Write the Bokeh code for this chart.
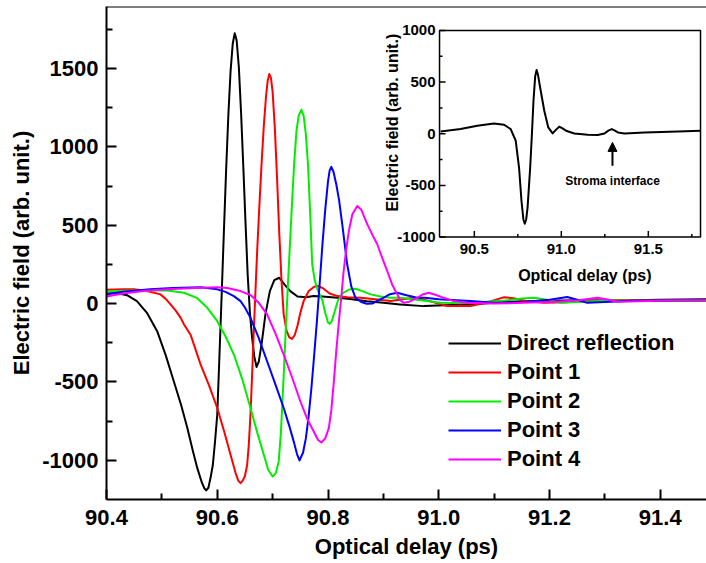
import numpy as np
from bokeh.plotting import figure
from bokeh.models import (Range1d, FixedTicker, PrintfTickFormatter, Legend,
                          LegendItem, Span, Arrow, NormalHead)
from bokeh.core.properties import value
from bokeh.embed import file_html
from bokeh.resources import INLINE

# ---------------- data ----------------
series_names = ["Direct reflection", "Point 1", "Point 2", "Point 3", "Point 4"]
series_colors = ["#000000", "#ff0000", "#00ee00", "#0000ff", "#ff00ff"]

direct_x = [90.40, 90.42, 90.437, 90.455, 90.473, 90.4915, 90.507, 90.5215, 90.535, 90.546,
            90.556, 90.564, 90.572, 90.577, 90.580, 90.584, 90.588, 90.592, 90.596, 90.600,
            90.604, 90.608, 90.612, 90.616, 90.620, 90.624, 90.628, 90.6316, 90.635, 90.639,
            90.643, 90.647, 90.651, 90.655, 90.659, 90.663, 90.667, 90.671, 90.675, 90.680,
            90.687, 90.695, 90.703, 90.712, 90.722, 90.732, 90.745, 90.760, 90.774, 90.790,
            90.817, 90.84, 90.87, 90.90, 90.93, 90.973, 91.01, 91.057, 91.10, 91.15,
            91.20, 91.25, 91.30, 91.35, 91.40, 91.49]
direct_y = [65, 66, 54, 16, -59, -176, -330, -495, -650, -794,
            -940, -1050, -1140, -1180, -1192, -1175, -1110, -1030, -880, -708,
            -330, 60, 460, 850, 1200, 1480, 1660, 1725, 1680, 1510,
            1220, 880, 520, 180, -60, -220, -340, -404, -370, -260,
            -69, 80, 150, 165, 120, 80, 45, 40, 48, 45,
            37, 30, 15, 5, -5, -16, -10, -5, 5, 15,
            18, 22, 20, 22, 25, 28]

p1_x = [90.40, 90.43, 90.449, 90.465, 90.479, 90.4975, 90.507, 90.5156, 90.525, 90.534,
        90.540, 90.552, 90.570, 90.585, 90.600, 90.612, 90.624, 90.633, 90.638, 90.642,
        90.646, 90.650, 90.654, 90.657, 90.660, 90.663, 90.666, 90.669, 90.672, 90.676,
        90.680, 90.684, 90.688, 90.691, 90.694, 90.697, 90.700, 90.704, 90.708, 90.712,
        90.716, 90.720, 90.725, 90.730, 90.735, 90.740, 90.745, 90.750, 90.756, 90.765,
        90.775, 90.783, 90.792, 90.803, 90.817, 90.835, 90.859, 90.885, 90.913, 90.935,
        90.955, 90.985, 91.015, 91.057, 91.09, 91.117, 91.135, 91.16, 91.19, 91.23,
        91.28, 91.33, 91.40, 91.49]
p1_y = [88, 92, 91, 85, 76, 59, 30, -5, -45, -91,
        -133, -200, -389, -520, -666, -810, -964, -1080, -1130, -1146,
        -1130, -1100, -1030, -900, -708, -450, -176, 80, 330, 620,
        890, 1130, 1320, 1420, 1465, 1440, 1350, 1120, 800, 450,
        150, -69, -170, -215, -225, -200, -140, -60, 16, 80,
        108, 112, 95, 65, 48, 40, 37, 28, 16, 28,
        37, 15, -16, -16, 10, 40, 35, 15, 5, 8,
        18, 22, 20, 18]

p2_x = [90.40, 90.43, 90.47, 90.51, 90.54, 90.563, 90.582, 90.60, 90.615, 90.63,
        90.645, 90.66, 90.672, 90.684, 90.692, 90.700, 90.706, 90.711, 90.715, 90.7195,
        90.7235, 90.727, 90.731, 90.735, 90.739, 90.743, 90.747, 90.752, 90.756, 90.760,
        90.764, 90.768, 90.7715, 90.776, 90.781, 90.786, 90.790, 90.795, 90.800, 90.803,
        90.807, 90.812, 90.818, 90.826, 90.838, 90.85, 90.862, 90.877, 90.895, 90.913,
        90.931, 90.96, 91.003, 91.04, 91.08, 91.12, 91.15, 91.172, 91.195, 91.22,
        91.26, 91.31, 91.38, 91.49]
p2_y = [78, 82, 84, 84, 69, 37, -27, -112, -210, -325,
        -480, -666, -820, -964, -1060, -1103, -1080, -1007, -820, -495,
        -180, 80, 360, 640, 900, 1100, 1200, 1237, 1200, 1080,
        880, 560, 251, 150, 90, 50, 20, -60, -120, -129,
        -110, -50, 20, 65, 90, 95, 80, 59, 45, 37,
        37, 25, 5, 2, 10, 20, 32, 37, 25, 5,
        12, 20, 18, 18]

p3_x = [90.40, 90.43, 90.479, 90.52, 90.57, 90.60, 90.615, 90.63, 90.642, 90.650,
        90.66, 90.675, 90.69, 90.705, 90.72, 90.730, 90.738, 90.744, 90.7485, 90.755,
        90.760, 90.765, 90.770, 90.775, 90.780, 90.785, 90.790, 90.795, 90.800, 90.803,
        90.806, 90.810, 90.815, 90.820, 90.827, 90.8346, 90.842, 90.8497, 90.86, 90.87,
        90.88, 90.89, 90.90, 90.912, 90.925, 90.94, 90.961, 90.975, 91.0, 91.057,
        91.10, 91.15, 91.20, 91.232, 91.25, 91.268, 91.30, 91.35, 91.40, 91.49]
p3_y = [60, 75, 91, 100, 105, 91, 75, 48, 16, -25,
        -91, -220, -368, -515, -666, -780, -879, -960, -1001, -950,
        -860, -720, -540, -330, -110, 130, 380, 600, 780, 850,
        873, 840, 760, 660, 470, 251, 110, 37, 10, -1,
        0, 20, 37, 60, 69, 55, 37, 37, 28, 16,
        5, 8, 25, 42, 25, 5, 10, 18, 20, 22]

p4_x = [90.40, 90.43, 90.47, 90.51, 90.56, 90.60, 90.618, 90.642, 90.66, 90.675,
        90.69, 90.705, 90.72, 90.735, 90.75, 90.763, 90.774, 90.782, 90.788, 90.795,
        90.8015, 90.806, 90.8106, 90.815, 90.8195, 90.824, 90.828, 90.833, 90.838, 90.844,
        90.8527, 90.860, 90.871, 90.880, 90.889, 90.898, 90.907, 90.916, 90.925, 90.931,
        90.937, 90.945, 90.961, 90.972, 90.982, 90.995, 91.009, 91.027, 91.05, 91.10,
        91.15, 91.20, 91.25, 91.286, 91.30, 91.322, 91.36, 91.41, 91.49]
p4_y = [45, 65, 82, 91, 100, 105, 100, 80, 55, 5,
        -69, -190, -325, -470, -623, -740, -815, -870, -886, -860,
        -794, -680, -495, -300, -120, 40, 200, 350, 470, 570,
        623, 600, 506, 440, 379, 290, 208, 120, 59, 20,
        5, 10, 37, 60, 69, 55, 37, 16, 5, 0,
        5, 10, 20, 37, 30, 12, 15, 20, 22]

inset_x = [90.306, 90.421, 90.517, 90.613, 90.671, 90.709, 90.738, 90.757, 90.771, 90.782,
           90.790, 90.798, 90.806, 90.821, 90.831, 90.840, 90.850, 90.858, 90.866, 90.878,
           90.902, 90.925, 90.950, 90.970, 90.988, 91.005, 91.027, 91.075, 91.152, 91.209,
           91.248, 91.270, 91.290, 91.308, 91.325, 91.363, 91.478, 91.671, 91.80]
inset_y = [22, 45, 78, 100, 87, 45, -68, -327, -650, -830,
           -871, -830, -715, -327, -3, 320, 560, 618, 570, 450,
           223, 61, 3, 40, 68, 55, 29, 3, -10, -13,
           3, 30, 45, 30, 13, 3, 13, 22, 29]

main_x_ticks = [90.4, 90.6, 90.8, 91.0, 91.2, 91.4]
main_x_minor = [90.5, 90.7, 90.9, 91.1, 91.3]
main_y_ticks = [-1000, -500, 0, 500, 1000, 1500]
main_y_minor = [-750, -250, 250, 750, 1250, 1750]

inset_x_ticks = [90.5, 91.0, 91.5]
inset_x_minor = [90.75, 91.25, 91.75]
inset_y_ticks = [-1000, -500, 0, 500, 1000]
inset_y_minor = [-750, -250, 250, 750]
inset_x_lim = (90.3, 91.8)
inset_y_lim = (-1000, 1000)
annotation_text = "Stroma interface"
annotation_x = 91.294
annotation_arrow_y = (-311, -84)
annotation_text_y = -456

# ---------------- layout ----------------
FONT = "Liberation Sans"
X_MAIN = (90.4, 91.4835)
Y_MAIN = (-1250, 1896)
# inset box expressed in main-data units
INSET_BOX_X = (91.0014, 91.4727)
INSET_BOX_Y = (425, 1743)
INSET_XLABEL_X = 91.135
INSET_YLABEL_Y = 107

p = figure(width=706, height=561, x_range=Range1d(*X_MAIN), y_range=Range1d(*Y_MAIN),
           output_backend="svg", toolbar_location=None,
           min_border_left=106, min_border_right=0, min_border_top=6, min_border_bottom=0)
p.outline_line_color = None
p.xgrid.visible = False
p.ygrid.visible = False
p.background_fill_color = "white"

for ax in (p.xaxis[0], p.yaxis[0]):
    ax.axis_line_width = 2
    ax.axis_line_color = "black"
    ax.major_tick_in = 10
    ax.major_tick_out = 0
    ax.minor_tick_in = 6
    ax.minor_tick_out = 0
    ax.major_tick_line_width = 2
    ax.minor_tick_line_width = 2
    ax.major_label_text_font = FONT
    ax.major_label_text_font_size = "22px"
    ax.major_label_text_font_style = "bold"
    ax.major_label_text_color = "black"
    ax.major_label_text_line_height = 1.0
    ax.axis_label_text_font = FONT
    ax.axis_label_text_font_size = "22px"
    ax.axis_label_text_font_style = "bold"
    ax.axis_label_text_color = "black"
    ax.axis_label_text_line_height = 1.0

p.xaxis.ticker = FixedTicker(ticks=main_x_ticks, minor_ticks=main_x_minor)
p.yaxis.ticker = FixedTicker(ticks=main_y_ticks, minor_ticks=main_y_minor)
p.xaxis.formatter = PrintfTickFormatter(format="%.1f")
p.yaxis.formatter = PrintfTickFormatter(format="%d")
p.xaxis.axis_label = "Optical delay (ps)"
p.yaxis.axis_label = "Electric field (arb. unit.)"
p.xaxis.major_label_standoff = 10
p.xaxis.axis_label_standoff = 6
p.yaxis.major_label_standoff = 8
p.yaxis.axis_label_standoff = 5

p.add_layout(Span(location=Y_MAIN[1], dimension="width", line_color="black", line_width=2))

# main curves
xs = [direct_x, p1_x, p2_x, p3_x, p4_x]
ys = [direct_y, p1_y, p2_y, p3_y, p4_y]
items = []
for name, col, x, y in zip(series_names, series_colors, xs, ys):
    r = p.line(x, y, line_color=col, line_width=2, line_join="round")
    items.append(LegendItem(label=name, renderers=[r]))

legend = Legend(items=items, location=(342, 27), label_text_font=FONT,
                label_text_font_size="22px", label_text_font_style="bold",
                label_text_color="black", label_text_line_height=1.0,
                glyph_width=53, glyph_height=22, label_height=22, spacing=3,
                padding=0, margin=0, border_line_color=None,
                background_fill_alpha=0, label_standoff=6)
p.add_layout(legend)

# ---------------- inset (mapped into the main frame) ----------------
sx = (inset_x_lim[1] - inset_x_lim[0]) / (INSET_BOX_X[1] - INSET_BOX_X[0])
sy = (inset_y_lim[1] - inset_y_lim[0]) / (INSET_BOX_Y[1] - INSET_BOX_Y[0])
p.extra_x_ranges = {"ix": Range1d(inset_x_lim[0] - (INSET_BOX_X[0] - X_MAIN[0]) * sx,
                                  inset_x_lim[1] + (X_MAIN[1] - INSET_BOX_X[1]) * sx)}
p.extra_y_ranges = {"iy": Range1d(inset_y_lim[0] - (INSET_BOX_Y[0] - Y_MAIN[0]) * sy,
                                  inset_y_lim[1] + (Y_MAIN[1] - INSET_BOX_Y[1]) * sy)}
R = dict(x_range_name="ix", y_range_name="iy")

p.quad(left=[inset_x_lim[0]], right=[inset_x_lim[1]], bottom=[inset_y_lim[0]], top=[inset_y_lim[1]],
       fill_color="white", line_color="black", line_width=1.5, **R)
p.line(inset_x, inset_y, line_color="black", line_width=2, line_join="round", **R)

# inset ticks (pixel lengths converted to inset units)
px_w, px_h = 261.0, 206.0
tx_major = 6 * (inset_y_lim[1] - inset_y_lim[0]) / px_h
tx_minor = 3 * (inset_y_lim[1] - inset_y_lim[0]) / px_h
ty_major = 6 * (inset_x_lim[1] - inset_x_lim[0]) / px_w
ty_minor = 3 * (inset_x_lim[1] - inset_x_lim[0]) / px_w
b = inset_y_lim[0]
l = inset_x_lim[0]
p.segment(x0=inset_x_ticks, y0=[b] * len(inset_x_ticks), x1=inset_x_ticks,
          y1=[b + tx_major] * len(inset_x_ticks), line_color="black", line_width=1.5, **R)
p.segment(x0=inset_x_minor, y0=[b] * len(inset_x_minor), x1=inset_x_minor,
          y1=[b + tx_minor] * len(inset_x_minor), line_color="black", line_width=1.5, **R)
p.segment(x0=[l] * len(inset_y_ticks), y0=inset_y_ticks, x1=[l + ty_major] * len(inset_y_ticks),
          y1=inset_y_ticks, line_color="black", line_width=1.5, **R)
p.segment(x0=[l] * len(inset_y_minor), y0=inset_y_minor, x1=[l + ty_minor] * len(inset_y_minor),
          y1=inset_y_minor, line_color="black", line_width=1.5, **R)

p.text(x=[l] * len(inset_y_ticks), y=inset_y_ticks, text=[str(v) for v in inset_y_ticks],
       text_font=value(FONT), text_font_size="15px", text_font_style="bold",
       text_align="right", text_baseline="middle", x_offset=-4, text_color="black", **R)
p.text(x=inset_x_ticks, y=[b] * len(inset_x_ticks), text=["%.1f" % v for v in inset_x_ticks],
       text_font=value(FONT), text_font_size="15px", text_font_style="bold",
       text_align="center", text_baseline="top", y_offset=7, text_color="black", **R)
p.text(x=[INSET_XLABEL_X], y=[b],
       text=["Optical delay (ps)"], text_font=value(FONT), text_font_size="16px",
       text_font_style="bold", text_align="center", text_baseline="middle", y_offset=38,
       text_color="black", **R)
p.text(x=[l], y=[INSET_YLABEL_Y], text=["Electric field (arb. unit.)"], text_font=value(FONT),
       text_font_size="16px", text_font_style="bold", text_align="center",
       text_baseline="middle", angle=np.pi / 2, x_offset=-47, text_color="black", **R)

p.add_layout(Arrow(end=NormalHead(size=9, fill_color="black", line_color="black", line_width=1),
                   x_start=annotation_x, y_start=annotation_arrow_y[0],
                   x_end=annotation_x, y_end=annotation_arrow_y[1],
                   line_color="black", line_width=2, **R))
p.text(x=[annotation_x], y=[annotation_text_y], text=[annotation_text], text_font=value(FONT),
       text_font_size="12px", text_font_style="bold", text_align="center",
       text_baseline="middle", text_color="black", **R)

open("out.html", "w").write(file_html(p, INLINE))
